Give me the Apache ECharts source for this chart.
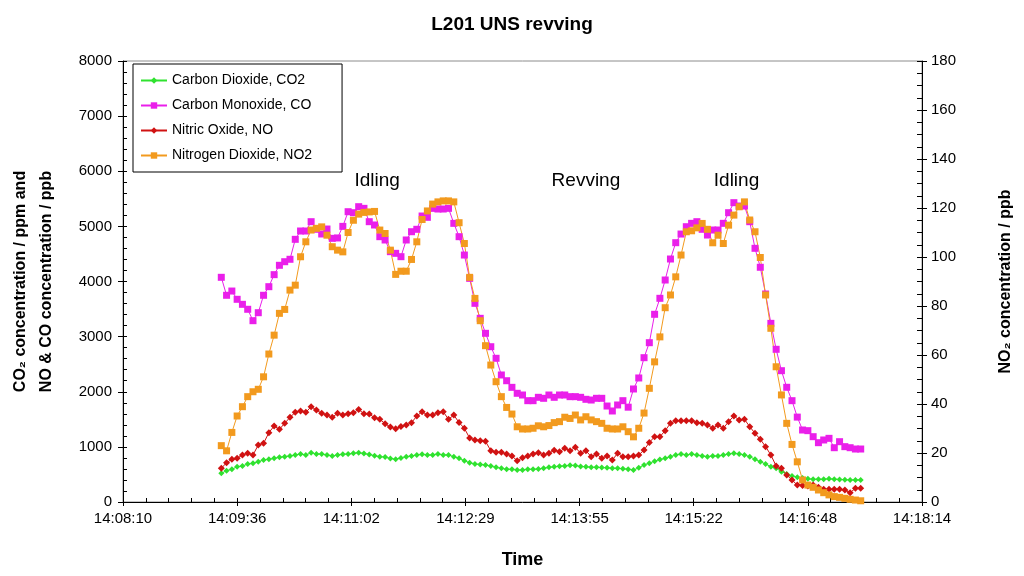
<!DOCTYPE html>
<html>
<head>
<meta charset="utf-8">
<script src="https://cdn.jsdelivr.net/npm/echarts@6/dist/echarts.min.js"></script>
<style>
  html, body { margin: 0; padding: 0; background: #ffffff; }
  #chart { width: 1024px; height: 576px; }
</style>
</head>
<body>
<div id="chart"></div>
<script>
// Sampling: one reading every 4 s starting at 14:09:24
const startTime = '14:09:24';
const stepSeconds = 4;

const seriesNames = ['Carbon Dioxide, CO2', 'Carbon Monoxide, CO', 'Nitric Oxide, NO', 'Nitrogen Dioxide, NO2'];

// CO2 in ppm (left axis)
const co2 = [
  520, 568, 593, 640, 653, 689, 702, 731, 762, 775,
  793, 811, 822, 834, 853, 871, 853, 894, 871, 871,
  853, 834, 853, 865, 870, 883, 894, 880, 860, 840,
  822, 815, 790, 775, 800, 822, 834, 853, 865, 853,
  853, 871, 853, 853, 822, 793, 749, 713, 689, 680,
  670, 653, 629, 611, 593, 593, 580, 580, 593, 593,
  600, 611, 629, 640, 650, 653, 665, 660, 645, 640,
  630, 629, 625, 620, 611, 611, 605, 593, 580, 620,
  671, 705, 740, 770, 793, 822, 853, 871, 853, 871,
  853, 834, 822, 834, 834, 853, 871, 883, 871, 853,
  822, 775, 730, 690, 640, 611, 550, 508, 472, 448,
  435, 420, 412, 412, 412, 420, 412, 410, 405, 400,
  400, 400
];

// CO in ppb (left axis)
const co = [
  4076, 3750, 3827, 3677, 3586, 3496, 3289, 3434, 3750, 3906,
  4124, 4294, 4359, 4403, 4765, 4916, 4916, 5085, 4947, 4862,
  4952, 4783, 4790, 5000, 5266, 5248, 5357, 5327, 5085, 5025,
  4813, 4753, 4541, 4511, 4450, 4753, 4903, 4947, 5188, 5164,
  5327, 5315, 5315, 5327, 5055, 4813, 4480, 4057, 3604, 3332,
  3060, 2817, 2607, 2304, 2200, 2080, 1972, 1941, 1838, 1838,
  1899, 1881, 1941, 1899, 1941, 1941, 1911, 1911, 1899, 1863,
  1850, 1881, 1881, 1741, 1651, 1760, 1838, 1720, 2050, 2250,
  2618, 2890, 3405, 3695, 4027, 4408, 4704, 4861, 4994, 5055,
  5085, 4947, 4843, 4934, 4934, 5055, 5248, 5430, 5369, 5369,
  5085, 4602, 4258, 3773, 3241, 2770, 2382, 2081, 1838, 1540,
  1306, 1294, 1185, 1076, 1125, 1155, 985, 1094, 1004, 985,
  961, 961
];

// NO in ppb (left axis)
const no = [
  611, 713, 775, 793, 853, 883, 853, 1034, 1065, 1257,
  1379, 1319, 1428, 1536, 1627, 1651, 1627, 1729, 1669, 1609,
  1578, 1536, 1609, 1578, 1600, 1620, 1680, 1600, 1596, 1530,
  1500, 1420, 1360, 1330, 1370, 1397, 1439, 1560, 1638, 1578,
  1578, 1620, 1638, 1500, 1578, 1440, 1337, 1160, 1125, 1112,
  1100, 931, 901, 901, 871, 834, 749, 804, 834, 871,
  894, 853, 883, 940, 913, 974, 931, 992, 883, 931,
  822, 871, 793, 834, 762, 883, 822, 822, 834, 853,
  943, 1080, 1185, 1185, 1294, 1428, 1475, 1475, 1475, 1475,
  1439, 1428, 1397, 1337, 1397, 1337, 1457, 1560, 1488, 1500,
  1367, 1246, 1137, 1004, 853, 653, 611, 490, 399, 308,
  300, 290, 308, 267, 230, 230, 230, 230, 218, 169,
  248, 248
];

// NO2 in ppb (right axis)
const no2 = [
  23.0, 20.9, 28.4, 35.1, 38.9, 43.0, 45.0, 46.0, 51.1, 60.4,
  68.1, 77.0, 78.6, 86.5, 88.5, 100.1, 106.2, 111.0, 111.7, 112.3,
  108.9, 104.2, 102.8, 102.1, 110.0, 115.0, 117.5, 118.2, 118.4, 118.6,
  111.0, 109.6, 102.8, 92.9, 94.2, 94.2, 99.0, 106.2, 115.3, 118.8,
  121.6, 122.5, 122.9, 122.9, 122.5, 114.0, 105.5, 91.7, 83.1, 74.0,
  63.8, 55.9, 49.1, 43.0, 38.6, 35.9, 30.7, 29.8, 29.8, 30.1,
  31.1, 30.7, 31.2, 32.4, 32.8, 34.6, 34.1, 35.5, 33.5, 34.8,
  33.5, 32.8, 32.1, 30.1, 29.8, 29.8, 30.7, 28.7, 26.6, 30.1,
  36.3, 46.4, 57.2, 67.4, 79.3, 84.5, 91.9, 100.8, 110.3, 110.7,
  111.9, 113.7, 111.3, 105.8, 108.9, 105.5, 113.0, 117.1, 120.5, 122.5,
  115.1, 110.3, 99.8, 84.5, 70.9, 55.2, 43.7, 32.1, 23.5, 16.4,
  9.0, 6.9, 6.0, 4.9, 3.8, 2.9, 2.2, 1.9, 1.5, 1.1,
  0.8, 0.5
];

// Time axis: ticks every 0.001 day (86.4 s), values expressed in thousandths of a day
const xTickLabels = ['14:08:10', '14:09:36', '14:11:02', '14:12:29', '14:13:55', '14:15:22', '14:16:48', '14:18:14'];
const xMinMilliDay = 589;
const xMaxMilliDay = 596;

// Phase annotations placed in data coordinates
const phaseLabels = [
  { text: 'Idling', time: '14:11:22', value: 5820 },
  { text: 'Revving', time: '14:14:00', value: 5820 },
  { text: 'Idling', time: '14:15:54', value: 5820 }
];

const colors = ['#2fe22f', '#ea1fea', '#d01212', '#f29a1e'];
const FONT = "'Liberation Sans', Arial, 'DejaVu Sans', sans-serif";

function toSeconds(hms) {
  const p = hms.split(':').map(Number);
  return p[0] * 3600 + p[1] * 60 + p[2];
}
function toMilliDay(sec) { return sec / 86.4; }

const t0 = toSeconds(startTime);
function pairs(values) {
  return values.map((v, i) => [toMilliDay(t0 + i * stepSeconds), v]);
}

const chart = echarts.init(document.getElementById('chart'), null, { renderer: 'canvas' });

const axisLineStyle = { color: '#000', width: 1 };

const xLabelFormatter = v => xTickLabels[Math.round(v - xMinMilliDay)] || '';
const plainNumber = v => String(v);

function lineSeries(idx, values, symbol, size, yAxisIndex) {
  return {
    name: seriesNames[idx],
    type: 'line',
    xAxisIndex: 0,
    yAxisIndex: yAxisIndex,
    data: pairs(values),
    symbol: symbol,
    symbolSize: size,
    showAllSymbol: true,
    lineStyle: { color: colors[idx], width: 1 },
    itemStyle: { color: colors[idx] },
    emphasis: { disabled: true },
    animation: false
  };
}

const coSeries = lineSeries(1, co, 'rect', 7, 0);
coSeries.markPoint = {
  symbol: 'rect',
  symbolSize: 0,
  animation: false,
  label: {
    show: true,
    position: 'inside',
    formatter: '{b}',
    color: '#000',
    fontSize: 19,
    fontFamily: FONT
  },
  data: phaseLabels.map(p => ({
    name: p.text,
    coord: [toMilliDay(toSeconds(p.time)), p.value]
  }))
};

const option = {
  backgroundColor: '#ffffff',
  animation: false,
  title: {
    text: 'L201 UNS revving',
    left: 'center',
    top: 10,
    textStyle: { fontFamily: FONT, fontSize: 19, fontWeight: 'bold', color: '#000' }
  },
  legend: {
    orient: 'vertical',
    left: 133,
    top: 64,
    padding: [8, 30, 8, 7],
    itemGap: 8,
    itemWidth: 26,
    itemHeight: 8,
    borderColor: '#000',
    borderWidth: 1,
    backgroundColor: '#fff',
    data: seriesNames,
    textStyle: { fontFamily: FONT, fontSize: 14, color: '#000', lineHeight: 17 }
  },
  grid: {
    left: 122,
    right: 102,
    top: 61,
    bottom: 74,
    show: true,
    borderColor: '#8c8c8c',
    borderWidth: 1,
    containLabel: false
  },
  xAxis: [
    {
      type: 'value',
      min: xMinMilliDay,
      max: xMaxMilliDay,
      interval: 1,
      name: 'Time',
      nameLocation: 'middle',
      nameGap: 49,
      nameTextStyle: { fontFamily: FONT, fontSize: 18, fontWeight: 'bold', color: '#000' },
      axisLine: { show: true, onZero: false, lineStyle: axisLineStyle },
      axisTick: { show: true, inside: true, length: 4, lineStyle: axisLineStyle },
      minorTick: { show: true, splitNumber: 5, length: 4, lineStyle: axisLineStyle },
      axisLabel: { formatter: xLabelFormatter, margin: 9, fontFamily: FONT, fontSize: 15, color: '#000' },
      splitLine: { show: false }
    },
    {
      type: 'value',
      min: xMinMilliDay,
      max: xMaxMilliDay,
      interval: 1,
      position: 'bottom',
      axisLine: { show: false },
      axisTick: { show: true, inside: false, length: 4, lineStyle: axisLineStyle },
      axisLabel: { show: false },
      splitLine: { show: false }
    }
  ],
  yAxis: [
    {
      type: 'value',
      position: 'left',
      min: 0,
      max: 8000,
      interval: 1000,
      name: 'CO\u2082 concentration / ppm and\nNO & CO concentration / ppb',
      nameLocation: 'middle',
      nameRotate: 90,
      nameGap: 63,
      nameTextStyle: { fontFamily: FONT, fontSize: 16, fontWeight: 'bold', color: '#000', lineHeight: 26 },
      axisLine: { show: true, onZero: false, lineStyle: axisLineStyle },
      axisTick: { show: true, inside: true, length: 4, lineStyle: axisLineStyle },
      minorTick: { show: true, splitNumber: 5, length: 4, lineStyle: axisLineStyle },
      axisLabel: { formatter: plainNumber, margin: 11, fontFamily: FONT, fontSize: 15, color: '#000' },
      splitLine: { show: false }
    },
    {
      type: 'value',
      position: 'right',
      min: 0,
      max: 180,
      interval: 20,
      name: 'NO\u2082 concentration / ppb',
      nameLocation: 'middle',
      nameRotate: 90,
      nameGap: 76,
      nameTextStyle: { fontFamily: FONT, fontSize: 16, fontWeight: 'bold', color: '#000' },
      axisLine: { show: true, onZero: false, lineStyle: axisLineStyle },
      axisTick: { show: true, inside: true, length: 5, lineStyle: axisLineStyle },
      minorTick: { show: true, splitNumber: 4, length: 5, lineStyle: axisLineStyle },
      axisLabel: { formatter: plainNumber, margin: 9, fontFamily: FONT, fontSize: 15, color: '#000' },
      splitLine: { show: false }
    },
    {
      type: 'value',
      position: 'left',
      min: 0,
      max: 8000,
      interval: 1000,
      axisLine: { show: false },
      axisTick: { show: true, inside: false, length: 5, lineStyle: axisLineStyle },
      axisLabel: { show: false },
      splitLine: { show: false }
    },
    {
      type: 'value',
      position: 'right',
      min: 0,
      max: 180,
      interval: 20,
      axisLine: { show: false },
      axisTick: { show: true, inside: false, length: 5, lineStyle: axisLineStyle },
      axisLabel: { show: false },
      splitLine: { show: false }
    }
  ],
  series: [
    lineSeries(0, co2, 'diamond', 6, 0),
    coSeries,
    lineSeries(2, no, 'diamond', 7, 0),
    lineSeries(3, no2, 'rect', 7, 1)
  ]
};

chart.setOption(option);
</script>
</body>
</html>
